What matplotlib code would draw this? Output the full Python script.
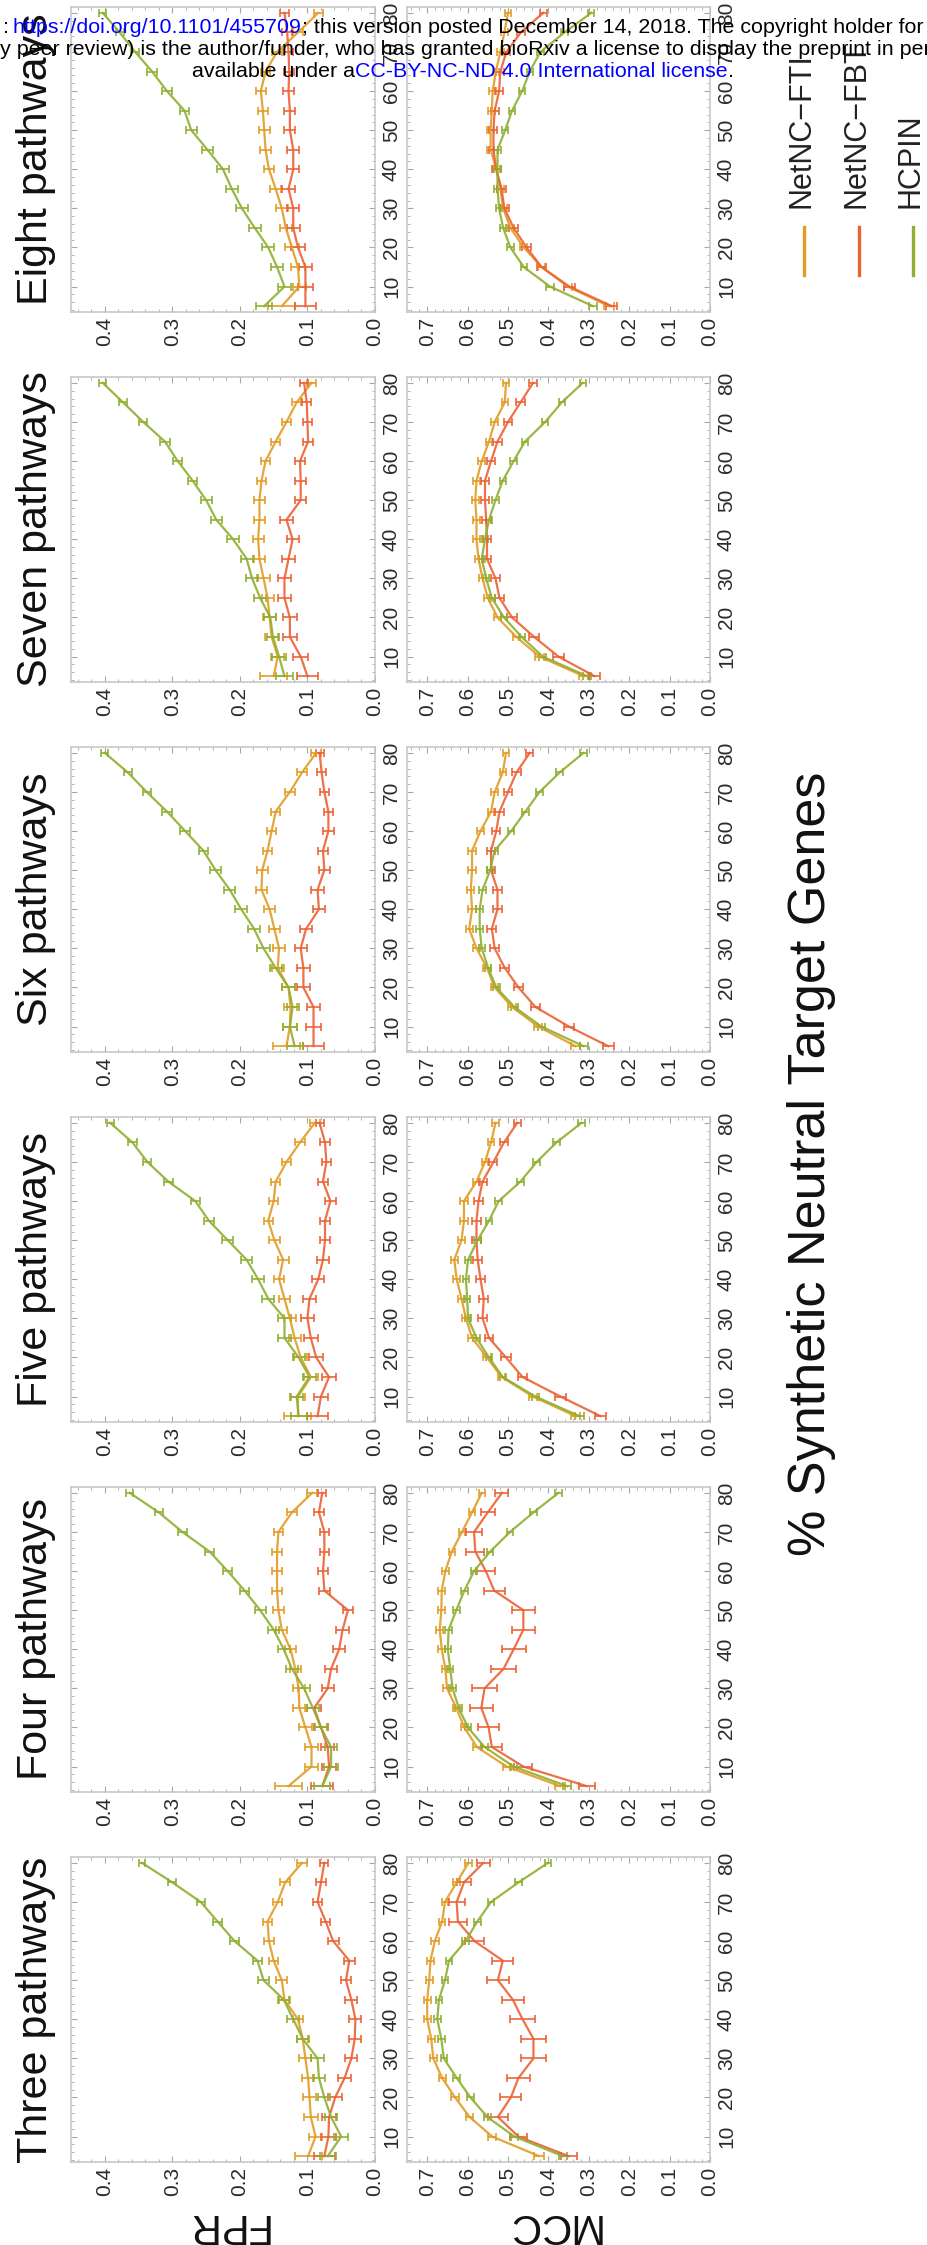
import matplotlib
matplotlib.use("Agg")
import matplotlib.pyplot as plt
from matplotlib.ticker import MultipleLocator

plt.rcParams['font.family'] = ['Liberation Sans', 'DejaVu Sans']

W, H = 928, 2245

# x values of every curve: % synthetic neutral target genes
pct = [5, 10, 15, 20, 25, 30, 35, 40, 45, 50, 55, 60, 65, 70, 75, 80]

titles = ["Eight pathways", "Seven pathways", "Six pathways",
          "Five pathways", "Four pathways", "Three pathways"]
series_names = ["NetNC\u2212FTI", "NetNC\u2212FBT", "HCPIN"]
series_colors = ["#E19C24", "#EB6235", "#8FB032"]

# FPR values, pct 5 -> 80
fpr_eight_fti = [0.138, 0.112, 0.114, 0.123, 0.132, 0.138, 0.147, 0.157, 0.162, 0.164, 0.166, 0.169, 0.162, 0.145, 0.114, 0.084]
fpr_eight_fbt = [0.103, 0.103, 0.103, 0.114, 0.121, 0.121, 0.128, 0.121, 0.121, 0.126, 0.126, 0.128, 0.127, 0.128, 0.130, 0.134]
fpr_eight_hcpin = [0.164, 0.134, 0.145, 0.158, 0.178, 0.197, 0.212, 0.225, 0.248, 0.272, 0.282, 0.308, 0.330, 0.355, 0.378, 0.403]

fpr_seven_fti = [0.150, 0.144, 0.153, 0.156, 0.159, 0.165, 0.171, 0.173, 0.171, 0.171, 0.168, 0.162, 0.147, 0.131, 0.116, 0.094]
fpr_seven_fbt = [0.100, 0.110, 0.126, 0.126, 0.134, 0.134, 0.128, 0.122, 0.131, 0.110, 0.110, 0.111, 0.099, 0.100, 0.101, 0.105]
fpr_seven_hcpin = [0.134, 0.142, 0.151, 0.155, 0.170, 0.182, 0.190, 0.210, 0.235, 0.250, 0.270, 0.292, 0.311, 0.343, 0.373, 0.403]

fpr_six_fti = [0.131, 0.126, 0.125, 0.128, 0.144, 0.142, 0.149, 0.156, 0.168, 0.167, 0.159, 0.153, 0.147, 0.126, 0.108, 0.087]
fpr_six_fbt = [0.091, 0.091, 0.091, 0.106, 0.106, 0.110, 0.102, 0.083, 0.085, 0.075, 0.077, 0.069, 0.069, 0.075, 0.079, 0.082]
fpr_six_hcpin = [0.119, 0.126, 0.122, 0.128, 0.147, 0.165, 0.179, 0.198, 0.215, 0.236, 0.254, 0.281, 0.308, 0.338, 0.366, 0.400]

fpr_five_fti = [0.114, 0.114, 0.095, 0.110, 0.119, 0.126, 0.134, 0.142, 0.136, 0.149, 0.158, 0.150, 0.147, 0.131, 0.111, 0.089]
fpr_five_fbt = [0.085, 0.080, 0.068, 0.087, 0.095, 0.100, 0.097, 0.084, 0.077, 0.074, 0.074, 0.066, 0.077, 0.072, 0.074, 0.082]
fpr_five_hcpin = [0.113, 0.116, 0.097, 0.113, 0.134, 0.134, 0.158, 0.173, 0.190, 0.218, 0.246, 0.266, 0.306, 0.337, 0.359, 0.392]

fpr_four_fti = [0.128, 0.094, 0.094, 0.103, 0.112, 0.113, 0.118, 0.125, 0.138, 0.143, 0.145, 0.145, 0.145, 0.143, 0.123, 0.093]
fpr_four_fbt = [0.078, 0.068, 0.070, 0.080, 0.090, 0.070, 0.065, 0.053, 0.048, 0.040, 0.075, 0.077, 0.075, 0.075, 0.083, 0.078]
fpr_four_hcpin = [0.078, 0.065, 0.065, 0.080, 0.092, 0.105, 0.123, 0.135, 0.150, 0.170, 0.193, 0.218, 0.245, 0.285, 0.320, 0.363]

fpr_three_fti = [0.099, 0.088, 0.095, 0.097, 0.099, 0.103, 0.107, 0.114, 0.134, 0.138, 0.150, 0.157, 0.159, 0.144, 0.133, 0.108]
fpr_three_fbt = [0.075, 0.069, 0.068, 0.059, 0.045, 0.035, 0.030, 0.029, 0.035, 0.043, 0.038, 0.062, 0.073, 0.085, 0.080, 0.075]
fpr_three_hcpin = [0.070, 0.050, 0.065, 0.075, 0.083, 0.085, 0.107, 0.121, 0.135, 0.165, 0.174, 0.208, 0.233, 0.258, 0.300, 0.345]

# MCC values, pct 5 -> 80
mcc_eight_fti = [0.250, 0.352, 0.417, 0.461, 0.494, 0.512, 0.519, 0.529, 0.543, 0.543, 0.540, 0.538, 0.530, 0.519, 0.509, 0.500]
mcc_eight_fbt = [0.243, 0.348, 0.417, 0.454, 0.486, 0.509, 0.516, 0.529, 0.536, 0.536, 0.533, 0.522, 0.519, 0.504, 0.468, 0.413]
mcc_eight_hcpin = [0.290, 0.396, 0.461, 0.494, 0.512, 0.522, 0.526, 0.526, 0.526, 0.507, 0.490, 0.465, 0.446, 0.420, 0.360, 0.294]

mcc_seven_fti = [0.313, 0.422, 0.479, 0.526, 0.550, 0.563, 0.573, 0.578, 0.578, 0.581, 0.578, 0.565, 0.547, 0.533, 0.508, 0.505]
mcc_seven_fbt = [0.286, 0.375, 0.435, 0.490, 0.521, 0.531, 0.552, 0.552, 0.554, 0.557, 0.557, 0.542, 0.526, 0.500, 0.469, 0.438]
mcc_seven_hcpin = [0.304, 0.414, 0.466, 0.510, 0.540, 0.554, 0.565, 0.557, 0.547, 0.531, 0.513, 0.486, 0.458, 0.408, 0.367, 0.315]

mcc_six_fti = [0.333, 0.425, 0.490, 0.533, 0.552, 0.578, 0.596, 0.589, 0.592, 0.589, 0.589, 0.568, 0.542, 0.533, 0.513, 0.505]
mcc_six_fbt = [0.252, 0.349, 0.432, 0.474, 0.508, 0.533, 0.540, 0.526, 0.526, 0.542, 0.542, 0.529, 0.521, 0.500, 0.479, 0.446]
mcc_six_hcpin = [0.313, 0.417, 0.484, 0.529, 0.549, 0.565, 0.570, 0.570, 0.563, 0.544, 0.533, 0.492, 0.457, 0.422, 0.372, 0.313]

mcc_five_fti = [0.333, 0.438, 0.516, 0.552, 0.589, 0.604, 0.615, 0.627, 0.633, 0.615, 0.609, 0.609, 0.578, 0.557, 0.542, 0.531]
mcc_five_fbt = [0.271, 0.370, 0.464, 0.505, 0.547, 0.563, 0.560, 0.568, 0.575, 0.578, 0.578, 0.573, 0.563, 0.536, 0.510, 0.477]
mcc_five_hcpin = [0.323, 0.432, 0.513, 0.547, 0.578, 0.599, 0.601, 0.604, 0.599, 0.575, 0.547, 0.523, 0.469, 0.429, 0.380, 0.318]

mcc_four_fti = [0.371, 0.503, 0.577, 0.608, 0.628, 0.651, 0.655, 0.664, 0.669, 0.665, 0.664, 0.655, 0.639, 0.614, 0.589, 0.565]
mcc_four_fbt = [0.305, 0.462, 0.540, 0.548, 0.566, 0.558, 0.511, 0.486, 0.462, 0.462, 0.534, 0.555, 0.581, 0.584, 0.550, 0.515]
mcc_four_hcpin = [0.354, 0.486, 0.558, 0.599, 0.622, 0.637, 0.643, 0.649, 0.647, 0.628, 0.608, 0.584, 0.544, 0.495, 0.437, 0.375]

mcc_three_fti = [0.423, 0.539, 0.595, 0.631, 0.663, 0.685, 0.690, 0.700, 0.700, 0.695, 0.692, 0.681, 0.663, 0.656, 0.627, 0.598]
mcc_three_fbt = [0.350, 0.474, 0.525, 0.493, 0.474, 0.437, 0.437, 0.464, 0.488, 0.525, 0.513, 0.583, 0.624, 0.627, 0.609, 0.561]
mcc_three_hcpin = [0.364, 0.484, 0.551, 0.593, 0.627, 0.659, 0.665, 0.675, 0.671, 0.656, 0.646, 0.605, 0.576, 0.542, 0.474, 0.401]

# error bar half widths (estimated)
fpr_err_fti = [0.020, 0.010, 0.010, 0.010, 0.009, 0.009, 0.008, 0.008, 0.008, 0.008, 0.007, 0.007, 0.007, 0.007, 0.007, 0.007]
fpr_err_fbt = [0.016, 0.011, 0.010, 0.010, 0.010, 0.009, 0.009, 0.009, 0.009, 0.008, 0.008, 0.008, 0.007, 0.007, 0.007, 0.006]
fpr_err_hcpin = [0.012, 0.010, 0.009, 0.009, 0.009, 0.009, 0.009, 0.009, 0.008, 0.008, 0.007, 0.007, 0.007, 0.006, 0.006, 0.005]
mcc_err_fti = [0.012, 0.010, 0.009, 0.009, 0.009, 0.009, 0.009, 0.009, 0.009, 0.009, 0.009, 0.009, 0.008, 0.008, 0.008, 0.008]
mcc_err_fbt = [0.014, 0.013, 0.012, 0.012, 0.011, 0.011, 0.011, 0.011, 0.011, 0.010, 0.010, 0.010, 0.010, 0.010, 0.010, 0.009]
mcc_err_fbt_wide = [0.020, 0.022, 0.024, 0.026, 0.028, 0.030, 0.030, 0.030, 0.028, 0.028, 0.026, 0.024, 0.022, 0.020, 0.018, 0.016]
mcc_err_hcpin = [0.010, 0.009, 0.008, 0.008, 0.008, 0.008, 0.008, 0.008, 0.008, 0.008, 0.008, 0.008, 0.008, 0.008, 0.008, 0.008]

fpr_rows = [
    (fpr_eight_fti, fpr_eight_fbt, fpr_eight_hcpin),
    (fpr_seven_fti, fpr_seven_fbt, fpr_seven_hcpin),
    (fpr_six_fti, fpr_six_fbt, fpr_six_hcpin),
    (fpr_five_fti, fpr_five_fbt, fpr_five_hcpin),
    (fpr_four_fti, fpr_four_fbt, fpr_four_hcpin),
    (fpr_three_fti, fpr_three_fbt, fpr_three_hcpin),
]
mcc_rows = [
    (mcc_eight_fti, mcc_eight_fbt, mcc_eight_hcpin),
    (mcc_seven_fti, mcc_seven_fbt, mcc_seven_hcpin),
    (mcc_six_fti, mcc_six_fbt, mcc_six_hcpin),
    (mcc_five_fti, mcc_five_fbt, mcc_five_hcpin),
    (mcc_four_fti, mcc_four_fbt, mcc_four_hcpin),
    (mcc_three_fti, mcc_three_fbt, mcc_three_hcpin),
]

fig = plt.figure(figsize=(W / 100, H / 100), dpi=100)


def px_axes(x0, top, w, h):
    return fig.add_axes([x0 / W, 1 - (top + h) / H, w / W, h / H])


def style_panel(ax, vmax, major_top):
    ax.set_xlim(vmax, 0)
    ax.set_ylim(3.5, 81.5)
    ax.set_xticks([round(0.1 * k, 1) for k in range(major_top + 1)])
    ax.xaxis.set_minor_locator(MultipleLocator(0.02))
    ax.set_yticks(range(10, 81, 10))
    ax.yaxis.set_minor_locator(MultipleLocator(2))
    ax.xaxis.set_major_formatter(plt.FuncFormatter(lambda v, p: f"{v:.1f}"))
    for s in ax.spines.values():
        s.set_color("#c4c4c4")
        s.set_linewidth(1.1)
    ax.tick_params(which="both", direction="in", top=True, bottom=True,
                   left=True, right=True, labelleft=False, labelright=True,
                   labelbottom=True, labeltop=False, color="#a8a8a8",
                   labelsize=15, labelcolor="#2a2a2a")
    ax.tick_params(which="major", length=4, width=0.8)
    ax.tick_params(which="minor", length=2.2, width=0.6)
    ax.tick_params(axis="x", labelrotation=90, pad=3.5)
    ax.tick_params(axis="y", labelrotation=90, pad=5)
    plt.setp(ax.get_yticklabels(), va="center")


def draw_series(ax, rows, errs):
    for vals, err, col in zip(rows, errs, series_colors):
        ax.errorbar(vals, pct, xerr=err, color=col, lw=1.6, elinewidth=1.3,
                    capsize=2.8, capthick=1.3, alpha=0.9)


top0, pitch, ph = 7, 370, 305
for i, title in enumerate(titles):
    top = top0 + pitch * i
    ax_f = px_axes(71, top, 304, ph)
    draw_series(ax_f, fpr_rows[i], (fpr_err_fti, fpr_err_fbt, fpr_err_hcpin))
    style_panel(ax_f, 0.45, 4)

    ax_m = px_axes(407, top, 303, ph)
    wide = i >= 4
    draw_series(ax_m, mcc_rows[i],
                (mcc_err_fti, mcc_err_fbt_wide if wide else mcc_err_fbt, mcc_err_hcpin))
    style_panel(ax_m, 0.75, 7)

    fig.text(36 / W, 1 - (top + ph / 2) / H, title, rotation=90,
             ha="center", va="center", fontsize=31, color="#111111")

# row labels (upside down, as in the rotated original)
fig.text(226 / W, 1 - 2225 / H, "FPR", rotation=180, ha="center",
         va="center", fontsize=30, color="#111111")
fig.text(552 / W, 1 - 2225 / H, "MCC", rotation=180, ha="center",
         va="center", fontsize=30, color="#111111")

# shared axis title
fig.text(812 / W, 1 - 1164 / H, "% Synthetic Neutral Target Genes",
         rotation=90, ha="center", va="center", fontsize=37.5, color="#111111")

# legend
for k, (name, col) in enumerate(zip(series_names, series_colors)):
    lx = [804, 859, 913][k]
    fig.add_artist(plt.Line2D([lx / W, lx / W], [1 - 275 / H, 1 - 227 / H],
                              color=col, lw=2.4, transform=fig.transFigure))
    fig.text((lx - 2) / W, 1 - 208 / H, name, rotation=90, ha="center",
             va="bottom", fontsize=22, color="#222222")

# bioRxiv header overlay
renderer = fig.canvas.get_renderer()
HDR = 15.4
blue = "#0000ff"


def put_pieces(pieces, x, y):
    for txt, col in pieces:
        t = fig.text(x / W, 1 - y / H, txt, color=col, fontsize=HDR,
                     ha="left", va="baseline", zorder=10)
        x = t.get_window_extent(renderer=renderer).x1


put_pieces([(":", "black")], 3, 33)
put_pieces([("https://doi.org/10.1101/455709", blue),
            ("; this version posted December 14, 2018. The copyright holder for", "black")], 13, 33)
put_pieces([("y peer review) is the author/funder, who has granted bioRxiv a license to display the preprint in perpetuity.", "black")], 0, 55)
put_pieces([("available under a", "black"),
            ("CC-BY-NC-ND 4.0 International license", blue),
            (".", "black")], 192, 77)

fig.savefig("out.png", dpi=100)
